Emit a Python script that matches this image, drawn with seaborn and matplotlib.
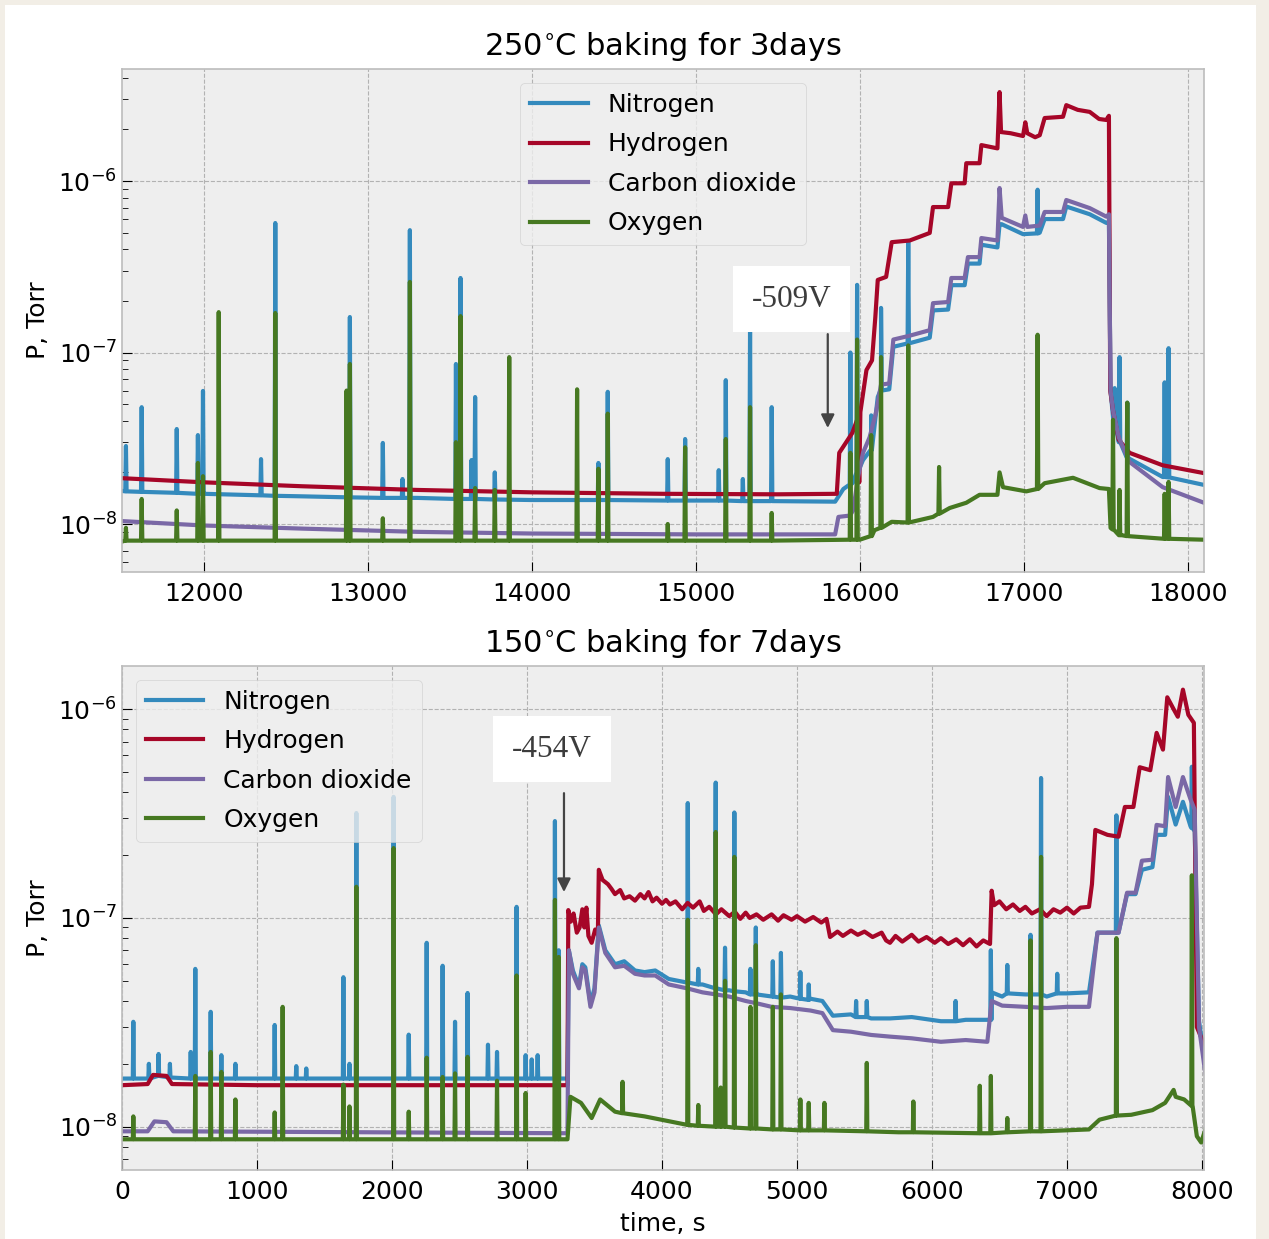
import numpy as np
import pandas as pd
import matplotlib
matplotlib.use("Agg")
import matplotlib.pyplot as plt
from matplotlib.patches import Rectangle
import seaborn as sns

plt.style.use("bmh")
plt.rcParams["axes.unicode_minus"] = False
plt.rcParams["mathtext.fontset"] = "dejavusans"

GASES = ["Nitrogen", "Hydrogen", "Carbon dioxide", "Oxygen"]
COLORS = ["#348ABD", "#A60628", "#7A68A6", "#467821"]

# ---------------------------------------------------------------
# 250 C bake, 3 days: slowly varying traces (time in s, pressure in Torr)
# ---------------------------------------------------------------
b250_n2_t = [11500, 12000, 12600, 13300, 14000, 15000, 15850, 15900, 15960, 16020,
             16070, 16110, 16130, 16180, 16205, 16300, 16427, 16447, 16539, 16559,
             16640, 16660, 16731, 16742, 16840, 16853, 16866, 16996, 17098, 17128,
             17240, 17260, 17403, 17504, 17520, 17530, 17545, 17580, 17646, 17848, 18100]
b250_n2_p = [1.56e-8, 1.5e-8, 1.45e-8, 1.42e-8, 1.38e-8, 1.37e-8, 1.35e-8, 1.6e-8, 1.75e-8, 2.36e-8,
             2.7e-8, 5.5e-8, 6.0e-8, 6.1e-8, 1.08e-7, 1.13e-7, 1.22e-7, 1.76e-7, 1.78e-7, 2.47e-7,
             2.47e-7, 3.3e-7, 3.3e-7, 4.25e-7, 4.1e-7, 5.6e-7, 5.6e-7, 4.9e-7, 5.0e-7, 6.0e-7,
             6.0e-7, 7.1e-7, 6.4e-7, 5.7e-7, 5.8e-7, 6e-8, 4.2e-8, 3.0e-8, 2.4e-8, 1.88e-8, 1.69e-8]

b250_h2_t = [11500, 12000, 12600, 13300, 14000, 14800, 15500, 15860, 15875, 15955,
             15990, 15997, 16004, 16041, 16075, 16095, 16110, 16161, 16195, 16305,
             16427, 16447, 16539, 16559, 16640, 16650, 16731, 16742, 16840, 16853,
             16862, 16920, 16996, 17010, 17022, 17070, 17098, 17128, 17240, 17260,
             17330, 17403, 17460, 17504, 17520, 17528, 17545, 17580, 17646, 17848, 18100]
b250_h2_p = [1.85e-8, 1.75e-8, 1.66e-8, 1.58e-8, 1.53e-8, 1.5e-8, 1.49e-8, 1.5e-8, 2.6e-8, 3.4e-8,
             4.2e-8, 1.75e-8, 4.5e-8, 7.9e-8, 9.0e-8, 1.6e-7, 2.65e-7, 2.76e-7, 4.4e-7, 4.5e-7,
             4.98e-7, 7.05e-7, 7.05e-7, 9.7e-7, 9.7e-7, 1.27e-6, 1.27e-6, 1.62e-6, 1.55e-6, 3.3e-6,
             1.93e-6, 1.9e-6, 1.83e-6, 2.2e-6, 1.9e-6, 1.8e-6, 1.85e-6, 2.33e-6, 2.37e-6, 2.77e-6,
             2.6e-6, 2.53e-6, 2.3e-6, 2.27e-6, 2.4e-6, 6e-8, 4.6e-8, 3.1e-8, 2.6e-8, 2.2e-8, 1.98e-8]

b250_co2_t = [11500, 12000, 12600, 13300, 14000, 15000, 15850, 15870, 15940, 15960,
              15990, 16020, 16060, 16100, 16130, 16180, 16205, 16300, 16427, 16447,
              16539, 16559, 16640, 16660, 16731, 16742, 16840, 16853, 16866, 16996,
              17010, 17022, 17098, 17128, 17240, 17260, 17403, 17504, 17520, 17530,
              17545, 17580, 17646, 17848, 18100]
b250_co2_p = [1.04e-8, 9.8e-9, 9.4e-9, 9.0e-9, 8.8e-9, 8.7e-9, 8.7e-9, 1.1e-8, 1.12e-8, 1.2e-8,
              1.88e-8, 2.6e-8, 3.2e-8, 4.5e-8, 6.5e-8, 6.6e-8, 1.19e-7, 1.25e-7, 1.35e-7, 1.94e-7,
              1.97e-7, 2.72e-7, 2.72e-7, 3.6e-7, 3.6e-7, 4.65e-7, 4.5e-7, 9.1e-7, 6.1e-7, 5.4e-7,
              6.3e-7, 5.4e-7, 5.5e-7, 6.6e-7, 6.6e-7, 7.75e-7, 6.95e-7, 6.2e-7, 6.4e-7, 6e-8,
              4.6e-8, 3.2e-8, 2.3e-8, 1.64e-8, 1.33e-8]

b250_o2_t = [11500, 13000, 15000, 16000, 16090, 16195, 16300, 16447, 16549, 16650,
             16731, 16840, 16853, 16874, 17016, 17128, 17301, 17463, 17520, 17530,
             17600, 18100]
b250_o2_p = [7.9e-9, 8.0e-9, 8.0e-9, 8.1e-9, 9.2e-9, 1.03e-8, 1.02e-8, 1.1e-8, 1.24e-8, 1.33e-8,
             1.48e-8, 1.48e-8, 2.0e-8, 1.64e-8, 1.55e-8, 1.73e-8, 1.86e-8, 1.62e-8, 1.6e-8, 9.5e-9,
             8.6e-9, 8.1e-9]

# bursts: time, level before the burst, peak level
b250_n2_burst_t = [11524, 11620, 11834, 11963, 11994, 12348, 12435, 12890, 13091, 13211,
                   13256, 13537, 13565, 13632, 13654, 13774, 14406, 14463, 14829, 14935,
                   15140, 15183, 15287, 15331, 15463, 15943, 15984, 16070, 16130, 16296,
                   17085, 17555, 17585, 17632, 17860, 17884]
b250_n2_burst_base = [1.55e-8, 1.54e-8, 1.52e-8, 1.5e-8, 1.5e-8, 1.47e-8, 1.46e-8, 1.43e-8, 1.42e-8, 1.42e-8,
                      1.42e-8, 1.4e-8, 1.4e-8, 1.4e-8, 1.4e-8, 1.39e-8, 1.38e-8, 1.38e-8, 1.37e-8, 1.37e-8,
                      1.37e-8, 1.37e-8, 1.36e-8, 1.36e-8, 1.36e-8, 1.7e-8, 2.0e-8, 2.7e-8, 6.0e-8, 1.13e-7,
                      4.95e-7, 3.8e-8, 3.0e-8, 2.45e-8, 1.88e-8, 1.87e-8]
b250_n2_burst_peak = [2.85e-8, 4.8e-8, 3.58e-8, 3.3e-8, 5.97e-8, 2.39e-8, 5.69e-7, 1.61e-7, 2.97e-8, 1.83e-8,
                      5.17e-7, 8.57e-8, 2.72e-7, 2.36e-8, 5.5e-8, 2.0e-8, 2.27e-8, 5.9e-8, 2.39e-8, 3.13e-8,
                      2.06e-8, 6.9e-8, 1.83e-8, 1.35e-7, 4.8e-8, 1.0e-7, 2.48e-7, 4.3e-8, 1.82e-7, 4.4e-7,
                      8.9e-7, 6.2e-8, 9.4e-8, 5.1e-8, 6.7e-8, 1.06e-7]

b250_o2_burst_t = [11524, 11620, 11834, 11963, 11994, 12090, 12435, 12870, 12890, 13091,
                   13256, 13537, 13565, 13654, 13774, 13862, 14276, 14406, 14463, 14829,
                   14935, 15183, 15331, 15463, 15943, 15984, 16070, 16130, 16296, 16484,
                   17085, 17545, 17585, 17632, 17860, 17884]
b250_o2_burst_base = [8e-9, 8e-9, 8e-9, 8e-9, 8e-9, 8e-9, 8e-9, 8e-9, 8e-9, 8e-9,
                      8e-9, 8e-9, 8e-9, 8e-9, 8e-9, 8e-9, 8e-9, 8e-9, 8e-9, 8e-9,
                      8e-9, 8e-9, 8e-9, 8e-9, 8.1e-9, 8.1e-9, 8.5e-9, 9.5e-9, 1.02e-8, 1.15e-8,
                      1.6e-8, 9.3e-9, 8.6e-9, 8.5e-9, 8.2e-9, 8.2e-9]
b250_o2_burst_peak = [9.5e-9, 1.4e-8, 1.2e-8, 2.27e-8, 1.9e-8, 1.72e-7, 1.7e-7, 6.0e-8, 8.57e-8, 1.08e-8,
                      2.58e-7, 3.0e-8, 1.63e-7, 1.62e-8, 1.58e-8, 9.4e-8, 6.1e-8, 2.1e-8, 4.4e-8, 1.0e-8,
                      2.8e-8, 3.13e-8, 4.8e-8, 1.16e-8, 2.6e-8, 1.19e-7, 3.3e-8, 9.4e-8, 1.1e-7, 2.15e-8,
                      1.27e-7, 4.05e-8, 1.58e-8, 5.1e-8, 1.5e-8, 1.76e-8]

# ---------------------------------------------------------------
# 150 C bake, 7 days
# ---------------------------------------------------------------
b150_n2_t = [0, 3300, 3310, 3340, 3385, 3410, 3432, 3470, 3500, 3532,
             3580, 3652, 3720, 3800, 3871, 3950, 4050, 4185, 4300, 4400,
             4498, 4620, 4700, 4812, 4950, 5100, 5188, 5266, 5400, 5550,
             5689, 5850, 6066, 6250, 6410, 6442, 6520, 6692, 6850, 7000,
             7163, 7226, 7382, 7445, 7508, 7555, 7633, 7664, 7727, 7749,
             7805, 7859, 7915, 7946, 7978, 8025]
b150_n2_p = [1.7e-8, 1.7e-8, 7.0e-8, 5.6e-8, 4.7e-8, 6.0e-8, 5.8e-8, 3.9e-8, 4.6e-8, 9.2e-8,
             7.0e-8, 6.0e-8, 6.2e-8, 5.6e-8, 5.5e-8, 5.6e-8, 5.1e-8, 4.9e-8, 4.8e-8, 4.6e-8,
             4.5e-8, 4.4e-8, 4.3e-8, 4.2e-8, 4.2e-8, 4.1e-8, 4.0e-8, 3.4e-8, 3.45e-8, 3.3e-8,
             3.3e-8, 3.35e-8, 3.2e-8, 3.25e-8, 3.25e-8, 4.4e-8, 4.2e-8, 4.3e-8, 4.2e-8, 4.35e-8,
             4.4e-8, 8.5e-8, 8.5e-8, 1.3e-7, 1.3e-7, 1.7e-7, 1.75e-7, 2.5e-7, 2.5e-7, 3.8e-7,
             2.8e-7, 3.6e-7, 2.75e-7, 2.6e-7, 3.2e-8, 2.0e-8]

b150_h2_t = [0, 190, 230, 330, 370, 1000, 2000, 3000, 3300, 3306,
             3325, 3345, 3369, 3390, 3410, 3425, 3440, 3455, 3479, 3505,
             3525, 3532, 3560, 3600, 3625, 3652, 3690, 3720, 3760, 3800,
             3840, 3871, 3900, 3930, 3960, 4000, 4030, 4059, 4100, 4150,
             4190, 4230, 4279, 4310, 4350, 4400, 4440, 4498, 4540, 4580,
             4620, 4650, 4700, 4750, 4812, 4860, 4900, 4960, 5000, 5060,
             5120, 5180, 5219, 5245, 5300, 5340, 5400, 5450, 5500, 5560,
             5627, 5660, 5689, 5730, 5780, 5850, 5900, 5960, 6020, 6066,
             6120, 6180, 6230, 6280, 6330, 6380, 6430, 6442, 6460, 6500,
             6550, 6600, 6650, 6692, 6740, 6800, 6849, 6900, 6950, 7000,
             7050, 7100, 7163, 7185, 7210, 7300, 7382, 7429, 7492, 7539,
             7617, 7664, 7711, 7743, 7790, 7821, 7859, 7899, 7940, 7962, 8025]
b150_h2_p = [1.58e-8, 1.6e-8, 1.77e-8, 1.75e-8, 1.6e-8, 1.58e-8, 1.58e-8, 1.58e-8, 1.58e-8, 1.09e-7,
             9.6e-8, 1.05e-7, 8.5e-8, 9.0e-8, 1.1e-7, 9.0e-8, 1.12e-7, 8.2e-8, 7.6e-8, 8.8e-8,
             8.3e-8, 1.7e-7, 1.52e-7, 1.45e-7, 1.38e-7, 1.3e-7, 1.36e-7, 1.24e-7, 1.27e-7, 1.21e-7,
             1.3e-7, 1.24e-7, 1.33e-7, 1.2e-7, 1.25e-7, 1.17e-7, 1.22e-7, 1.16e-7, 1.2e-7, 1.1e-7,
             1.18e-7, 1.12e-7, 1.2e-7, 1.08e-7, 1.13e-7, 1.04e-7, 1.1e-7, 1.02e-7, 1.07e-7, 9.9e-8,
             1.06e-7, 1.0e-7, 1.04e-7, 9.8e-8, 1.04e-7, 9.7e-8, 1.03e-7, 9.8e-8, 1.02e-7, 9.6e-8,
             1.01e-7, 9.5e-8, 9.9e-8, 8.1e-8, 8.6e-8, 8.2e-8, 8.7e-8, 8.3e-8, 8.6e-8, 8.1e-8,
             8.5e-8, 7.8e-8, 7.6e-8, 8.2e-8, 7.7e-8, 8.3e-8, 7.7e-8, 8.1e-8, 7.6e-8, 8.0e-8,
             7.5e-8, 7.9e-8, 7.4e-8, 7.9e-8, 7.3e-8, 7.8e-8, 7.5e-8, 1.35e-7, 1.15e-7, 1.2e-7,
             1.1e-7, 1.16e-7, 1.08e-7, 1.13e-7, 1.05e-7, 1.1e-7, 1.02e-7, 1.1e-7, 1.06e-7, 1.12e-7,
             1.05e-7, 1.12e-7, 1.13e-7, 1.45e-7, 2.64e-7, 2.5e-7, 2.45e-7, 3.4e-7, 3.4e-7, 5.27e-7,
             5.1e-7, 7.7e-7, 6.4e-7, 1.14e-6, 1.0e-6, 9.2e-7, 1.24e-6, 9.4e-7, 8.6e-7, 3.0e-8, 2.4e-8]

b150_co2_t = [0, 190, 240, 330, 380, 3300, 3310, 3340, 3385, 3410,
              3432, 3470, 3500, 3532, 3580, 3652, 3720, 3800, 3871, 3950,
              4050, 4185, 4300, 4400, 4498, 4620, 4700, 4812, 4950, 5100,
              5188, 5266, 5400, 5550, 5689, 5850, 6066, 6250, 6410, 6442,
              6520, 6692, 6850, 7000, 7163, 7226, 7382, 7445, 7508, 7555,
              7633, 7664, 7727, 7749, 7805, 7859, 7915, 7946, 7978, 8025]
b150_co2_p = [9.5e-9, 9.5e-9, 1.06e-8, 1.05e-8, 9.5e-9, 9.3e-9, 7.0e-8, 5.4e-8, 4.6e-8, 5.8e-8,
              5.6e-8, 3.75e-8, 4.4e-8, 9.0e-8, 6.8e-8, 5.8e-8, 5.9e-8, 5.4e-8, 5.3e-8, 5.3e-8,
              4.8e-8, 4.6e-8, 4.4e-8, 4.3e-8, 4.2e-8, 4.0e-8, 3.9e-8, 3.75e-8, 3.7e-8, 3.6e-8,
              3.5e-8, 2.9e-8, 2.85e-8, 2.75e-8, 2.7e-8, 2.65e-8, 2.55e-8, 2.6e-8, 2.55e-8, 4.0e-8,
              3.8e-8, 3.75e-8, 3.7e-8, 3.75e-8, 3.75e-8, 8.5e-8, 8.5e-8, 1.32e-7, 1.32e-7, 1.88e-7,
              1.9e-7, 2.79e-7, 2.75e-7, 4.73e-7, 3.4e-7, 4.73e-7, 3.7e-7, 3.3e-7, 3.0e-8, 1.8e-8]

b150_o2_t = [0, 3300, 3322, 3400, 3479, 3542, 3652, 3871, 4185, 4812,
             5752, 6379, 7163, 7241, 7476, 7633, 7727, 7790, 7805, 7868,
             7931, 7962, 7994, 8025]
b150_o2_p = [8.7e-9, 8.7e-9, 1.39e-8, 1.3e-8, 1.1e-8, 1.35e-8, 1.18e-8, 1.12e-8, 1.02e-8, 9.7e-9,
             9.4e-9, 9.3e-9, 9.7e-9, 1.08e-8, 1.14e-8, 1.2e-8, 1.3e-8, 1.5e-8, 1.39e-8, 1.35e-8,
             1.25e-8, 9.0e-9, 8.4e-9, 9.7e-9]

b150_n2_burst_t = [84, 199, 271, 355, 509, 543, 657, 736, 840, 1131,
                   1291, 1365, 1640, 1685, 1736, 2012, 2124, 2257, 2375, 2467,
                   2560, 2711, 2778, 2923, 2990, 3035, 3079, 3207, 3235, 4191,
                   4269, 4398, 4467, 4536, 4655, 4695, 4821, 4881, 5025, 5087,
                   5438, 5517, 6175, 6436, 6558, 6730, 6808, 6928, 7366, 7925]
b150_n2_burst_base = [1.7e-8, 1.7e-8, 1.75e-8, 1.72e-8, 1.7e-8, 1.7e-8, 1.7e-8, 1.7e-8, 1.7e-8, 1.7e-8,
                      1.7e-8, 1.7e-8, 1.7e-8, 1.7e-8, 1.7e-8, 1.7e-8, 1.7e-8, 1.7e-8, 1.7e-8, 1.7e-8,
                      1.7e-8, 1.7e-8, 1.7e-8, 1.7e-8, 1.7e-8, 1.7e-8, 1.7e-8, 1.7e-8, 1.7e-8, 4.9e-8,
                      4.8e-8, 4.6e-8, 4.5e-8, 4.45e-8, 4.3e-8, 4.3e-8, 4.2e-8, 4.15e-8, 4.1e-8, 4.05e-8,
                      3.35e-8, 3.35e-8, 3.2e-8, 3.25e-8, 4.35e-8, 4.3e-8, 4.3e-8, 4.35e-8, 8.5e-8, 2.7e-7]
b150_n2_burst_peak = [3.18e-8, 2.0e-8, 2.23e-8, 2.0e-8, 2.28e-8, 5.7e-8, 3.55e-8, 2.2e-8, 2.0e-8, 3.07e-8,
                      1.95e-8, 1.9e-8, 5.2e-8, 2.0e-8, 3.18e-7, 3.8e-7, 2.76e-8, 7.6e-8, 5.9e-8, 3.18e-8,
                      4.37e-8, 2.47e-8, 2.28e-8, 1.13e-7, 2.2e-8, 2.1e-8, 2.2e-8, 2.91e-7, 7.0e-8, 3.55e-7,
                      5.7e-8, 4.45e-7, 7.2e-8, 3.2e-7, 5.7e-8, 9.0e-8, 6.2e-8, 6.8e-8, 5.5e-8, 4.8e-8,
                      4.0e-8, 4.0e-8, 4.0e-8, 7.0e-8, 5.95e-8, 8.3e-8, 4.68e-7, 5.4e-8, 3.1e-7, 5.3e-7]

b150_o2_burst_t = [84, 543, 657, 736, 840, 1131, 1190, 1640, 1685, 1736,
                   2012, 2124, 2257, 2375, 2467, 2560, 2778, 2923, 2990, 3207,
                   3235, 3708, 4191, 4269, 4398, 4435, 4467, 4536, 4655, 4695,
                   4821, 4881, 5025, 5087, 5203, 5517, 5862, 6354, 6436, 6558,
                   6730, 6808, 7366, 7925]
b150_o2_burst_base = [8.7e-9, 8.7e-9, 8.7e-9, 8.7e-9, 8.7e-9, 8.7e-9, 8.7e-9, 8.7e-9, 8.7e-9, 8.7e-9,
                      8.7e-9, 8.7e-9, 8.7e-9, 8.7e-9, 8.7e-9, 8.7e-9, 8.7e-9, 8.7e-9, 8.7e-9, 8.7e-9,
                      8.7e-9, 1.16e-8, 1.02e-8, 1.01e-8, 1.0e-8, 1.0e-8, 1.0e-8, 9.9e-9, 9.8e-9, 9.8e-9,
                      9.7e-9, 9.7e-9, 9.6e-9, 9.6e-9, 9.6e-9, 9.5e-9, 9.4e-9, 9.3e-9, 9.3e-9, 9.4e-9,
                      9.5e-9, 9.5e-9, 1.13e-8, 1.26e-8]
b150_o2_burst_peak = [1.12e-8, 1.75e-8, 2.28e-8, 1.83e-8, 1.35e-8, 1.17e-8, 3.75e-8, 1.59e-8, 1.25e-8, 1.41e-7,
                      2.16e-7, 1.18e-8, 2.14e-8, 1.73e-8, 1.8e-8, 2.16e-8, 1.66e-8, 5.3e-8, 1.45e-8, 1.22e-7,
                      6.5e-8, 1.64e-8, 9.8e-8, 1.27e-8, 2.58e-7, 1.54e-8, 5.0e-8, 1.96e-7, 3.75e-8, 7.4e-8,
                      3.75e-8, 4.3e-8, 1.35e-8, 1.3e-8, 1.3e-8, 2.02e-8, 1.32e-8, 1.57e-8, 1.75e-8, 1.1e-8,
                      7.8e-8, 1.96e-7, 8.0e-8, 1.6e-7]


def build_trace(t, p, burst_t=(), burst_base=(), burst_peak=(), half_width=4.0):
    """Merge a slow trace with short bursts into one time-ordered frame."""
    ts = list(t)
    ps = list(p)
    for bt, bb, bp in zip(burst_t, burst_base, burst_peak):
        ts += [bt - half_width, bt, bt + half_width]
        ps += [bb, bp, bb]
    order = np.argsort(ts, kind="stable")
    return pd.DataFrame({"time": np.asarray(ts)[order], "P": np.asarray(ps)[order]})


panels = [
    dict(title=r"250$^{\circ}\hspace{-0.08}$C baking for 3days",
         traces=[build_trace(b250_n2_t, b250_n2_p, b250_n2_burst_t, b250_n2_burst_base, b250_n2_burst_peak),
                 build_trace(b250_h2_t, b250_h2_p),
                 build_trace(b250_co2_t, b250_co2_p),
                 build_trace(b250_o2_t, b250_o2_p, b250_o2_burst_t, b250_o2_burst_base, b250_o2_burst_peak)],
         xlim=(11500, 18100), ylim=(5.25e-9, 4.5e-6), legend_loc="upper center",
         note="-509V", note_xy=(15585, 2.05e-7), arrow_tail=(15805, 1.28e-7), arrow_tip=(15805, 3.63e-8)),
    dict(title=r"150$^{\circ}\hspace{-0.08}$C baking for 7days",
         traces=[build_trace(b150_n2_t, b150_n2_p, b150_n2_burst_t, b150_n2_burst_base, b150_n2_burst_peak),
                 build_trace(b150_h2_t, b150_h2_p),
                 build_trace(b150_co2_t, b150_co2_p),
                 build_trace(b150_o2_t, b150_o2_p, b150_o2_burst_t, b150_o2_burst_base, b150_o2_burst_peak)],
         xlim=(0, 8015), ylim=(6.2e-9, 1.61e-6), legend_loc="upper left",
         note="-454V", note_xy=(3185, 6.44e-7), arrow_tail=(3274, 3.96e-7), arrow_tip=(3274, 1.33e-7)),
]

W, H = 1269, 1239
fig = plt.figure(figsize=(W / 100, H / 100), dpi=100, facecolor="#f2eee6")
fig.add_artist(Rectangle((5 / W, 0), (1256 - 5) / W, (H - 5) / H, transform=fig.transFigure,
                         facecolor="white", edgecolor="none", zorder=-10))

axes_boxes = [(122, 69, 1204, 572), (122, 666, 1204, 1170)]

for i, (panel, box) in enumerate(zip(panels, axes_boxes)):
    l, t, r, b = box
    ax = fig.add_axes([l / W, 1 - b / H, (r - l) / W, (b - t) / H])
    ax.set_yscale("log")
    for name, color, df in zip(GASES, COLORS, panel["traces"]):
        sns.lineplot(data=df, x="time", y="P", ax=ax, color=color, linewidth=3.0,
                     label=name, estimator=None, sort=False)
    ax.set_xlim(*panel["xlim"])
    ax.set_ylim(*panel["ylim"])
    ax.set_title(panel["title"], fontsize=22, pad=10)
    ax.set_ylabel("P, Torr", fontsize=18, labelpad=6)
    ax.set_xlabel("time, s" if i == 1 else "", fontsize=18, labelpad=6)
    ax.tick_params(axis="both", which="major", labelsize=18, length=7)
    ax.tick_params(axis="x", which="major", pad=7)
    ax.tick_params(axis="y", which="minor", length=4)
    ax.grid(True, which="major", linestyle="--", color="#b2b2b2", linewidth=0.8)
    ax.grid(False, which="minor")
    for s in ax.spines.values():
        s.set_color("#bcbcbc")
        s.set_linewidth(1.2)

    handles, labels = ax.get_legend_handles_labels()
    leg = ax.legend(handles, labels, loc=panel["legend_loc"], fontsize=18,
                    handlelength=2.3, handletextpad=0.8, labelspacing=0.62,
                    borderaxespad=0.55, framealpha=0.8)
    for h in leg.get_lines():
        h.set_linewidth(3.0)

    ax.text(*panel["note_xy"], panel["note"], fontsize=22.5, family="Liberation Serif",
            color="#3c3c3c", ha="center", va="center", zorder=6,
            bbox=dict(boxstyle="square,pad=0.6", facecolor="white", edgecolor="none"))
    ax.annotate("", xy=panel["arrow_tip"], xytext=panel["arrow_tail"], zorder=6,
                arrowprops=dict(arrowstyle="-|>", color="#444444", lw=1.6,
                                mutation_scale=20, shrinkA=0, shrinkB=0))

fig.savefig("out.png", dpi=100, facecolor=fig.get_facecolor())
